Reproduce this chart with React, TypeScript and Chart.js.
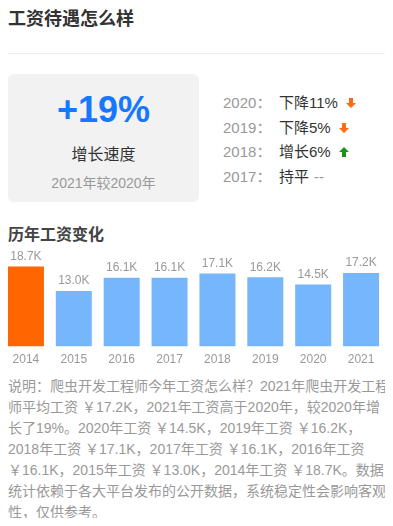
import React, { useEffect, useRef } from "react";
import { Chart, registerables } from "chart.js";

Chart.register(...registerables);

const years = ["2014", "2015", "2016", "2017", "2018", "2019", "2020", "2021"];
const salaries = [18.7, 13.0, 16.1, 16.1, 17.1, 16.2, 14.5, 17.2];
const barColors = ["#ff6600", "#76b6fd", "#76b6fd", "#76b6fd", "#76b6fd", "#76b6fd", "#76b6fd", "#76b6fd"];
const changeYears = ["2020", "2019", "2018", "2017"];
const changeTexts = ["下降11%", "下降5%", "增长6%", "持平"];
const changeDirs = ["down", "down", "up", "flat"];
const growthText = "+19%";

const FONT = '"Liberation Sans", Arial, "Noto Sans CJK SC", sans-serif';

const valueLabelPlugin = {
  id: "valueLabels",
  afterDatasetsDraw(chart: any) {
    const ctx = chart.ctx;
    const meta = chart.getDatasetMeta(0);
    ctx.save();
    ctx.font = `12px ${FONT}`;
    ctx.fillStyle = "#999";
    ctx.textAlign = "center";
    ctx.textBaseline = "bottom";
    meta.data.forEach((bar: any, i: number) => {
      ctx.fillText(salaries[i].toFixed(1) + "K", bar.x, bar.y - 4);
    });
    ctx.restore();
  },
};

function Arrow({ dir }: { dir: string }) {
  if (dir === "flat") return null;
  const color = dir === "down" ? "#ff6a13" : "#1a941a";
  const pts = dir === "down" ? "3,0 7,0 7,5 10,5 5,10 0,5 3,5" : "5,0 10,5 7,5 7,10 3,10 3,5 0,5";
  return (
    <svg width="10" height="10" style={{ marginLeft: 8, display: "inline-block" }}>
      <polygon points={pts} fill={color} />
    </svg>
  );
}

function BarChart() {
  const ref = useRef<HTMLCanvasElement>(null);
  useEffect(() => {
    const chart = new Chart(ref.current!, {
      type: "bar",
      data: {
        labels: years,
        datasets: [
          {
            data: salaries,
            backgroundColor: barColors,
            barPercentage: 0.752,
            categoryPercentage: 1,
          },
        ],
      },
      options: {
        animation: false,
        responsive: false,
        maintainAspectRatio: false,
        layout: { padding: { top: 20, left: 0, right: 0, bottom: 0 } },
        plugins: { legend: { display: false }, tooltip: { enabled: false } },
        scales: {
          x: {
            grid: { display: false, drawTicks: false },
            border: { display: false },
            ticks: { color: "#999", font: { size: 12, family: FONT }, padding: 6 },
          },
          y: { display: false, min: 0, max: 20 },
        },
      },
      plugins: [valueLabelPlugin],
    });
    return () => chart.destroy();
  }, []);
  return <canvas ref={ref} width={383} height={132} style={{ width: 383, height: 132, display: "block" }} />;
}

export default function App() {
  const fmt = (v: number) => `￥${v.toFixed(1)}K`;
  const last = salaries.length - 1;
  const history = years
    .map((y, i) => ({ y, v: salaries[i] }))
    .slice(0, last)
    .reverse()
    .map((o) => `${o.y}年工资 ${fmt(o.v)}`)
    .join("，");
  const desc = `说明：爬虫开发工程师今年工资怎么样？${years[last]}年爬虫开发工程师平均工资 ${fmt(salaries[last])}，${years[last]}年工资高于${years[last - 1]}年，较${years[last - 1]}年增长了19%。${history}。数据统计依赖于各大平台发布的公开数据，系统稳定性会影响客观性，仅供参考。`;

  const rowCenters = [103, 127.5, 152, 176.5];

  return (
    <div style={{ position: "relative", width: 393, height: 526, margin: -8, fontFamily: FONT, overflow: "hidden" }}>
      <div style={{ position: "absolute", left: 8, top: 8, fontSize: 18, lineHeight: "23px", fontWeight: 700, color: "#333" }}>
        工资待遇怎么样
      </div>
      <div style={{ position: "absolute", left: 8, right: 0, top: 53, height: 1, background: "#eeeeee" }} />

      <div style={{ position: "absolute", left: 8, top: 74, width: 191, height: 128, background: "#f2f2f2", borderRadius: 6 }}>
        <div style={{ position: "absolute", left: 0, right: 0, top: 16, textAlign: "center", fontSize: 36, lineHeight: "40px", fontWeight: 700, color: "#1677ff" }}>
          {growthText}
        </div>
        <div style={{ position: "absolute", left: 0, right: 0, top: 70, textAlign: "center", fontSize: 16, lineHeight: "22px", color: "#333" }}>
          增长速度
        </div>
        <div style={{ position: "absolute", left: 0, right: 0, top: 99, textAlign: "center", fontSize: 14, lineHeight: "20px", color: "#999" }}>
          2021年较2020年
        </div>
      </div>

      {changeYears.map((y, i) => (
        <React.Fragment key={y}>
          <div style={{ position: "absolute", left: 223, top: rowCenters[i] - 10, fontSize: 15, lineHeight: "20px", color: "#999" }}>
            {y}：
          </div>
          <div style={{ position: "absolute", left: 279, top: rowCenters[i] - 10, fontSize: 15, lineHeight: "20px", color: "#333", display: "flex", alignItems: "center", whiteSpace: "nowrap" }}>
            <span>{changeTexts[i]}</span>
            {changeDirs[i] === "flat" ? <span style={{ color: "#999", marginLeft: 5 }}>--</span> : <Arrow dir={changeDirs[i]} />}
          </div>
        </React.Fragment>
      ))}

      <div style={{ position: "absolute", left: 8, top: 224, fontSize: 16, lineHeight: "22px", fontWeight: 700, color: "#444" }}>
        历年工资变化
      </div>

      <div style={{ position: "absolute", left: 2, top: 241 }}>
        <BarChart />
      </div>

      <div style={{ position: "absolute", left: 8, top: 376, width: 382, fontSize: 14, lineHeight: "21px", color: "#999" }}>
        {desc}
      </div>
    </div>
  );
}
